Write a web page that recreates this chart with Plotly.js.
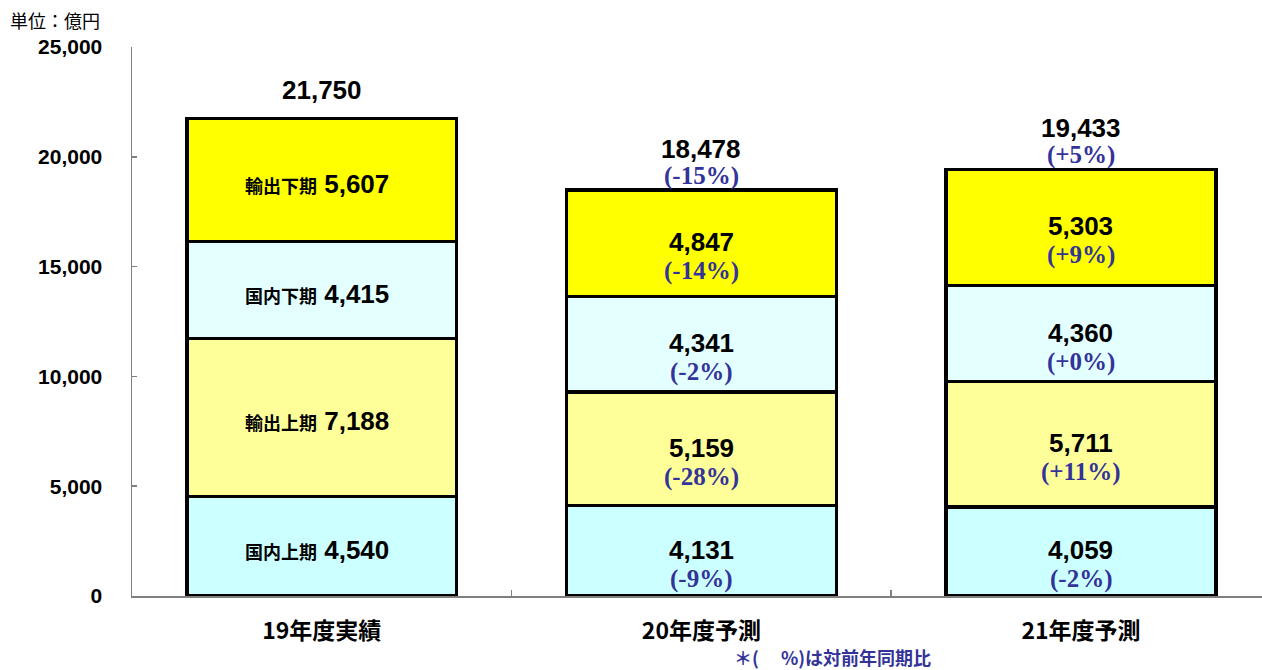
<!DOCTYPE html>
<html>
<head>
<meta charset="utf-8">
<script src="https://cdn.plot.ly/plotly-3.0.1.min.js"></script>
<style>
html,body{margin:0;padding:0;background:#fff;}
#chart{width:1262px;height:670px;}
</style>
</head>
<body>
<div id="chart"></div>
<script>
const categories = ['19年度実績', '20年度予測', '21年度予測'];
const seriesNames = ['国内上期', '輸出上期', '国内下期', '輸出下期'];
const domesticH1 = [4540, 4131, 4059];
const exportH1 = [7188, 5159, 5711];
const domesticH2 = [4415, 4341, 4360];
const exportH2 = [5607, 4847, 5303];
const domesticH1Pct = [null, '-9%', '-2%'];
const exportH1Pct = [null, '-28%', '+11%'];
const domesticH2Pct = [null, '-2%', '+0%'];
const exportH2Pct = [null, '-14%', '+9%'];
const totals = [21750, 18478, 19433];
const totalPct = [null, '-15%', '+5%'];
const yTicks = [0, 5000, 10000, 15000, 20000, 25000];

const seriesValues = [domesticH1, exportH1, domesticH2, exportH2];
const seriesPct = [domesticH1Pct, exportH1Pct, domesticH2Pct, exportH2Pct];
const seriesColors = ['#CCFFFF', '#FFFF99', '#E3FFFF', '#FFFF00'];

const NUM_FONT = '"Liberation Sans", Arial, sans-serif';
const JP_FONT = '"Noto Sans CJK JP", sans-serif';
const PCT_FONT = '"Liberation Serif", "Times New Roman", serif';
const PCT_COLOR = '#333399';
const numFont = {family: NUM_FONT, size: 26, color: '#000', weight: 'bold'};
const pctFont = {family: PCT_FONT, size: 25, color: PCT_COLOR, weight: 'bold'};

const traces = seriesValues.map((vals, i) => ({
  type: 'bar',
  name: seriesNames[i],
  x: categories,
  y: vals,
  width: 0.711,
  marker: {color: seriesColors[i], line: {color: '#000', width: 3.5}},
  hoverinfo: 'skip'
}));

const fmt = v => v.toLocaleString('en-US');
const annotations = [];

categories.forEach((cat, ci) => {
  let base = 0;
  seriesValues.forEach((vals, si) => {
    const v = vals[ci];
    const mid = base + v / 2;
    const pct = seriesPct[si][ci];
    if (pct === null) {
      annotations.push({
        x: cat, y: mid, xref: 'x', yref: 'y', showarrow: false,
        yshift: -4, xshift: -5,
        text: '<span style="font-family:' + "'Noto Sans CJK JP'" + ';font-size:18px;font-weight:bold">' + seriesNames[si] + '</span> ' + fmt(v),
        font: numFont
      });
    } else {
      annotations.push({
        x: cat, y: mid, xref: 'x', yref: 'y', showarrow: false, yshift: 1,
        text: fmt(v), font: numFont
      });
      annotations.push({
        x: cat, y: mid, xref: 'x', yref: 'y', showarrow: false, yshift: -28,
        text: '(' + pct + ')', font: pctFont
      });
    }
    base += v;
  });
  const tp = totalPct[ci];
  annotations.push({
    x: cat, y: totals[ci], xref: 'x', yref: 'y', showarrow: false,
    yshift: tp === null ? 28 : 41,
    text: fmt(totals[ci]), font: numFont
  });
  if (tp !== null) {
    annotations.push({
      x: cat, y: totals[ci], xref: 'x', yref: 'y', showarrow: false, yshift: 14,
      text: '(' + tp + ')', font: pctFont
    });
  }
});

annotations.push({
  xref: 'paper', yref: 'paper', x: -124 / 1130, y: 1 + 27 / 549,
  xanchor: 'left', yanchor: 'middle', showarrow: false,
  text: '単位：億円',
  font: {family: JP_FONT, size: 18, color: '#000'}
});
annotations.push({
  xref: 'paper', yref: 'paper', x: (832 - 132) / 1130, y: -76 / 549,
  xanchor: 'center', yanchor: 'bottom', showarrow: false,
  text: '＊(　 %)は対前年同期比',
  font: {family: JP_FONT, size: 18, color: PCT_COLOR, weight: 'bold'}
});

const layout = {
  width: 1262, height: 670,
  margin: {l: 132, r: 0, t: 47, b: 74, pad: 0},
  paper_bgcolor: '#fff', plot_bgcolor: '#fff',
  barmode: 'stack',
  showlegend: false,
  xaxis: {
    type: 'category',
    range: [-0.5, 2.477],
    showline: true, linecolor: '#808080', linewidth: 1.5,
    ticks: 'inside', tickson: 'boundaries', ticklen: 6, tickcolor: '#808080', tickwidth: 1.5,
    showgrid: false, zeroline: false,
    tickfont: {family: JP_FONT, size: 23, color: '#000', weight: 'bold'},
    ticklabelstandoff: 14
  },
  yaxis: {
    range: [0, 25000],
    tickvals: yTicks,
    tickformat: ',d',
    showline: true, linecolor: '#808080', linewidth: 1.5,
    ticks: 'inside', ticklen: 5, tickcolor: '#808080', tickwidth: 1.5,
    showgrid: false, zeroline: false,
    tickfont: {family: 'Liberation Sans, Arial, sans-serif', size: 21, color: '#000', weight: 'bold'},
    ticklabelstandoff: 24
  },
  annotations: annotations
};

Plotly.newPlot('chart', traces, layout, {displayModeBar: false, staticPlot: true});
</script>
</body>
</html>
